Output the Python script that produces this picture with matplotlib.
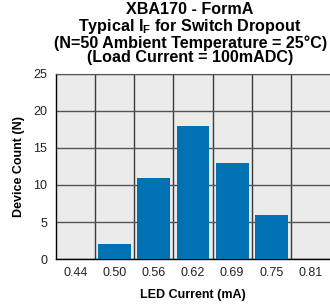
import numpy as np
import matplotlib
matplotlib.use('Agg')
import matplotlib.pyplot as plt

# data
categories = ['0.44', '0.50', '0.56', '0.62', '0.69', '0.75', '0.81']
counts = [0, 2, 11, 18, 13, 6, 0]
yticks = [0, 5, 10, 15, 20, 25]

plt.rcParams['font.family'] = ['Liberation Sans', 'DejaVu Sans']

fig = plt.figure(figsize=(3.30, 3.08), dpi=100)
ax = fig.add_axes([0.170, 0.159, 0.830, 0.601])
ax.set_facecolor('#ebebeb')

x = np.arange(len(categories))
ax.bar(x, counts, 0.84, color='#0072b4', zorder=3)

ax.set_xlim(-0.5, len(categories) - 0.5)
ax.set_ylim(0, 25)
ax.set_xticks(x)
ax.set_xticklabels(categories)
ax.set_xticks(x[:-1] + 0.5, minor=True)
ax.set_yticks(yticks)
ax.tick_params(axis='both', which='both', length=0, labelsize=9, colors='#222222')
ax.tick_params(axis='x', pad=6)
ax.tick_params(axis='y', pad=6.5)

ax.grid(which='minor', axis='x', color='#3a3a3a', linewidth=1.0, zorder=1)
ax.grid(which='major', axis='y', color='#555555', linewidth=1.0, zorder=1)

ax.spines['top'].set_color('#555555')
ax.spines['right'].set_visible(False)
for s in ['left', 'bottom']:
    ax.spines[s].set_color('black')
    ax.spines[s].set_linewidth(1.0)

ax.set_xlabel('LED Current (mA)', fontsize=9, fontweight='bold', labelpad=7)
ax.set_ylabel('Device Count (N)', fontsize=9, fontweight='bold', labelpad=5.5)

ctitle = ('XBA170 - FormA\n'
          'Typical I$_\\mathregular{F}$ for Switch Dropout\n'
          '(N=50 Ambient Temperature = 25\u00b0C)\n'
          '(Load Current = 100mADC)')
fig.text(0.576, 0.992, ctitle, ha='center', va='top', fontsize=11.6,
         fontweight='bold', linespacing=0.95)

plt.savefig('out.png', dpi=100)
